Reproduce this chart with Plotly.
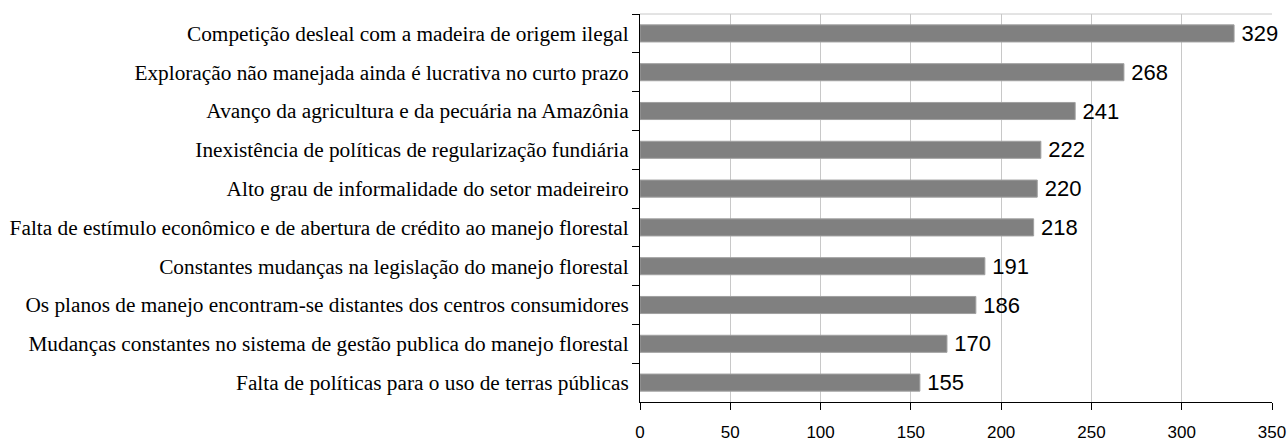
import plotly.graph_objects as go

categories = [
    "Competição desleal com a madeira de origem ilegal",
    "Exploração não manejada ainda é lucrativa no curto prazo",
    "Avanço da agricultura e da pecuária na Amazônia",
    "Inexistência de políticas de regularização fundiária",
    "Alto grau de informalidade do setor madeireiro",
    "Falta de estímulo econômico e de abertura de crédito ao manejo florestal",
    "Constantes mudanças na legislação do manejo florestal",
    "Os planos de manejo encontram-se distantes dos centros consumidores",
    "Mudanças constantes no sistema de gestão publica do manejo florestal",
    "Falta de políticas para o uso de terras públicas",
]
values = [329, 268, 241, 222, 220, 218, 191, 186, 170, 155]
x_ticks = [0, 50, 100, 150, 200, 250, 300, 350]

fig = go.Figure(go.Bar(
    x=values, y=categories, orientation="h",
    marker=dict(color="#808080", line=dict(color="#a0a0a0", width=1)),
    text=values, texttemplate="\u2009%{x}", textposition="outside",
    textfont=dict(family="Liberation Sans", size=22, color="black"),
    constraintext="none",
    cliponaxis=False, width=0.44,
))

fig.update_layout(
    width=1288, height=443,
    margin=dict(l=640, r=16, t=14, b=41),
    paper_bgcolor="white", plot_bgcolor="white",
    showlegend=False,
    xaxis=dict(range=[0, 350], tickvals=x_ticks, showgrid=True, gridcolor="#c8c8c8",
               gridwidth=1, zeroline=False, showline=True, linecolor="black", linewidth=1,
               ticks="outside", ticklen=7, tickcolor="black", automargin=False,
               tickfont=dict(family="Liberation Sans", size=17, color="black"),
               ticklabelstandoff=8),
    yaxis=dict(autorange="reversed", showline=True, linecolor="black", linewidth=1,
               ticks="outside", ticklen=7, tickcolor="black", tickson="boundaries",
               showgrid=False, automargin=False,
               tickfont=dict(family="Liberation Serif", size=21.3, color="black"),
               ticklabelstandoff=6),
    shapes=[dict(type="line", xref="paper", yref="paper", x0=0, x1=1, y0=1, y1=1,
                 line=dict(color="#c8c8c8", width=1))],
)

fig.write_html("out.html", config={"displayModeBar": False},
               post_script="document.body.style.margin='0';")
